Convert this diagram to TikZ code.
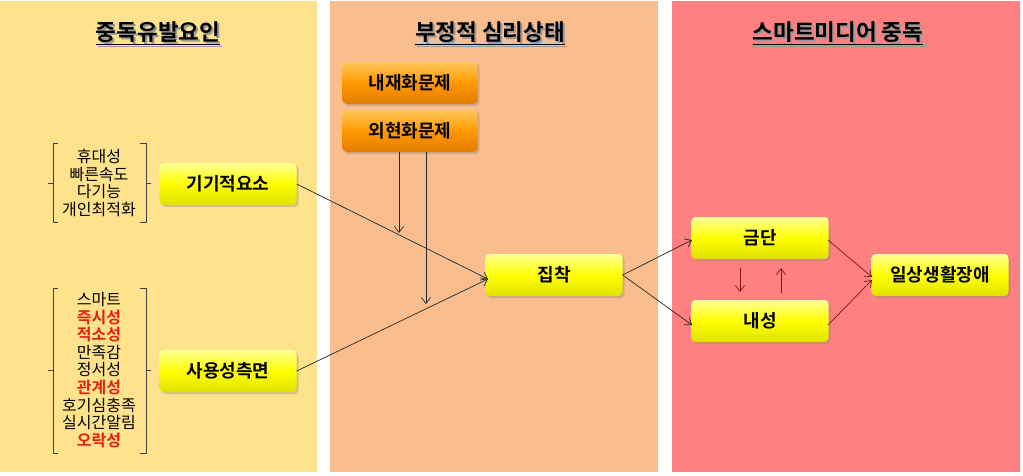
\documentclass[tikz,border=0pt]{standalone}
\usepackage{fontspec}
\setmainfont{Noto Sans CJK KR}
\newfontfamily\krb{Noto Sans CJK KR Bold}
\usetikzlibrary{arrows.meta,shadows}
\definecolor{panelY}{RGB}{255,227,140}
\definecolor{panelO}{RGB}{250,190,142}
\definecolor{panelR}{RGB}{255,128,128}
\definecolor{arrR}{RGB}{130,20,20}
\definecolor{listred}{RGB}{230,30,20}
\tikzset{
  x=1pt,y=-1pt,
  ybox/.style={draw=none,rounded corners=4pt,minimum width=137pt,minimum height=42pt,
    top color={rgb,255:red,255;green,255;blue,150},bottom color={rgb,255:red,225;green,225;blue,0},middle color=yellow,
    drop shadow={shadow xshift=2pt,shadow yshift=-2pt,opacity=0.35},
    font=\krb\fontsize{18}{21}\selectfont,inner sep=0pt},
  obox/.style={ybox,top color={rgb,255:red,255;green,200;blue,90},bottom color={rgb,255:red,225;green,125;blue,0},middle color={rgb,255:red,255;green,153;blue,0},minimum width=135pt},
  title/.style={font=\krb\fontsize{22.5}{26}\selectfont,inner sep=0pt},
  tshadow/.style={title,text=black!40},
  listtext/.style={font=\fontsize{16}{17.6}\selectfont,align=center,inner sep=0pt},
  brk/.style={draw=black!75,line width=0.8pt},
  arr/.style={draw=black!85,line width=0.7pt,-{Straight Barb[length=6pt,width=9pt]}},
  arrr/.style={arr,draw=arrR}
}
\newcommand{\rd}[1]{{\krb\color{listred}#1}}
\begin{document}
\begin{tikzpicture}
\useasboundingbox (0,0) rectangle (1023,475);
\fill[white] (0,0) rectangle (1023,475);
\fill[panelY] (0,1) rectangle (317,472);
\fill[panelO] (330,1) rectangle (658,472);
\fill[panelR] (672,1) rectangle (1020,472);
% titles
\node[tshadow] at (160,35) {\underline{중독유발요인}};
\node[title] (t1) at (158,33) {\underline{중독유발요인}};
\node[tshadow] at (492,35) {\underline{부정적 심리상태}};
\node[title] (t2) at (490,33) {\underline{부정적 심리상태}};
\node[tshadow] at (840,35) {\underline{스마트미디어 중독}};
\node[title] (t3) at (838,33) {\underline{스마트미디어 중독}};
% boxes
\node[ybox] (dev) at (228,184) {기기적요소};
\node[ybox] (use) at (228,371) {사용성측면};
\node[obox] (int) at (410,83) {내재화문제};
\node[obox] (ext) at (410,131) {외현화문제};
\node[ybox] (obs) at (554,275) {집착};
\node[ybox] (wd) at (760,238) {금단};
\node[ybox] (tol) at (760,321) {내성};
\node[ybox] (dis) at (940,275) {일상생활장애};
% lists
\node[listtext] (l1) at (99,183) {휴대성\\빠른속도\\다기능\\개인최적화};
\node[listtext] (l2) at (99,370) {스마트\\\rd{즉시성}\\\rd{적소성}\\만족감\\정서성\\\rd{관계성}\\호기심충족\\실시간알림\\\rd{오락성}};
\draw[brk] (58,143) -- (53,143) -- (53,222) -- (58,222) (53,183) -- (48,183);
\draw[brk] (140,143) -- (146,143) -- (146,222) -- (140,222) (146,183) -- (151,183);
\draw[brk] (58,288) -- (53,288) -- (53,453) -- (58,453) (53,370) -- (48,370);
\draw[brk] (140,288) -- (146,288) -- (146,453) -- (140,453) (146,370) -- (151,370);
% arrows
\coordinate (in) at (488,279);
\coordinate (a1) at (399,233);
\coordinate (a2) at (426,304);
\coordinate (wdin) at (692,240);
\coordinate (tolin) at (692,325);
\coordinate (wdout) at (828,240);
\coordinate (tolout) at (828,325);
\coordinate (d1) at (740,268);
\coordinate (d2) at (740,292);
\coordinate (u1) at (781,293);
\coordinate (u2) at (781,268);
\coordinate (dis1) at (872,277);
\coordinate (dis2) at (872,280);
\draw[arr] (dev.east) -- (in);
\draw[arr] (use.east) -- (in);
\draw[arr] (ext.south -| a1) -- (a1);
\draw[arr] (ext.south -| a2) -- (a2);
\draw[arr] (obs.east) -- (wdin);
\draw[arr] (obs.east) -- (tolin);
\draw[arrr] (d1) -- (d2);
\draw[arrr] (u1) -- (u2);
\draw[arrr] (wdout) -- (dis1);
\draw[arrr] (tolout) -- (dis2);
\end{tikzpicture}
\end{document}
